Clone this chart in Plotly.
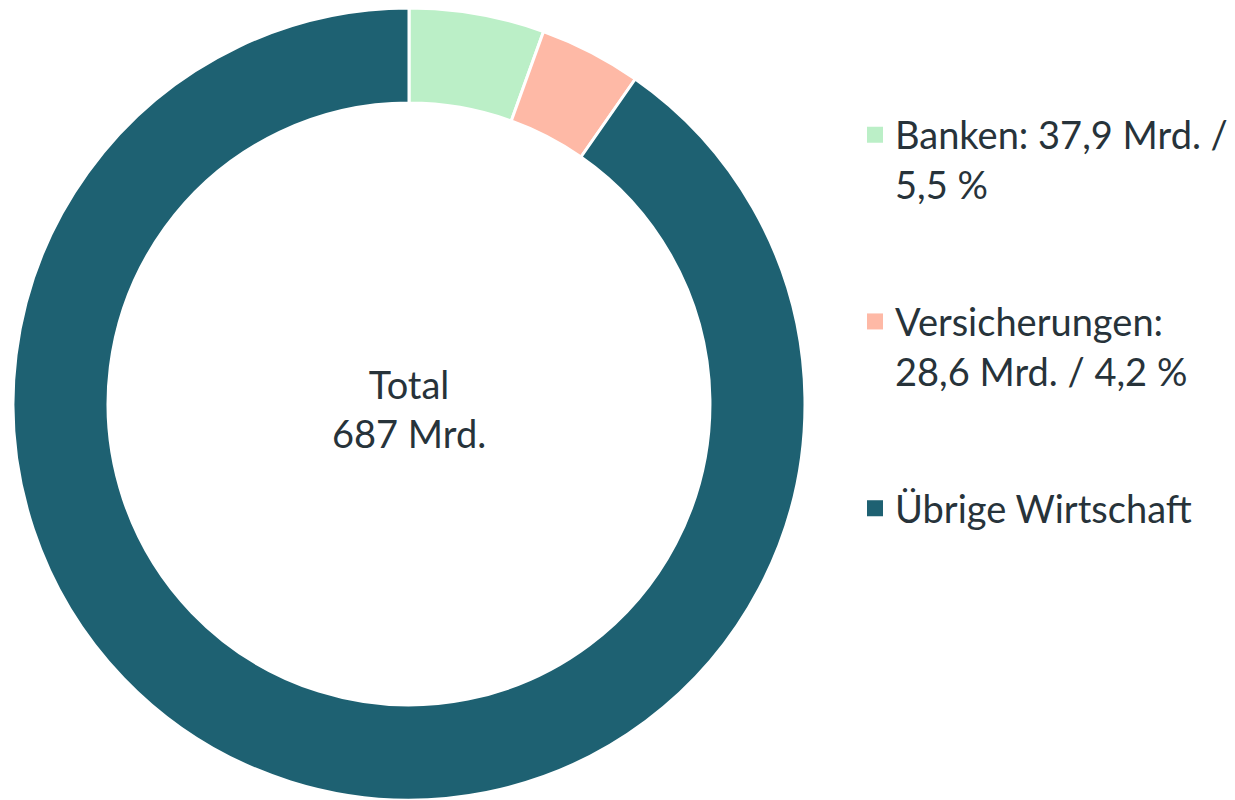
import plotly.graph_objects as go

# Anteile am Total (Mrd.)
categories = ["Banken", "Versicherungen", "Übrige Wirtschaft"]
values = [37.9, 28.6, 620.5]
legend_labels = [
    "Banken: 37,9 Mrd. /<br>5,5 %",
    "Versicherungen:<br>28,6 Mrd. / 4,2 %",
    "Übrige Wirtschaft",
]
center_text = "Total<br>687 Mrd."
colors = ["#bbefc7", "#feb9a6", "#1e6172"]

FONT = "Lato"
TEXT_COLOR = "#27333a"
W, H = 1235, 800

fig = go.Figure()

fig.add_trace(go.Pie(
    labels=categories,
    values=values,
    sort=False,
    direction="clockwise",
    rotation=0,
    hole=0.76,
    marker=dict(colors=colors, line=dict(color="white", width=3)),
    textinfo="none",
    hoverinfo="label+value+percent",
    showlegend=False,
    domain=dict(x=[0, 802 / W], y=[0, 1]),
))

# legend entries (one group each so the spacing can be set)
for cat, lab, col in zip(categories, legend_labels, colors):
    fig.add_trace(go.Scatter(
        x=[None], y=[None],
        mode="markers",
        name=lab,
        legendgroup=cat,
        marker=dict(symbol="square", size=16, color=col),
        hoverinfo="skip",
    ))

fig.add_annotation(
    text=center_text,
    x=401 / W, y=0.4937,
    xref="paper", yref="paper",
    xanchor="center", yanchor="middle",
    showarrow=False,
    font=dict(family=FONT, size=38, color=TEXT_COLOR),
)

fig.update_layout(
    width=W,
    height=H,
    margin=dict(l=0, r=0, t=0, b=8, autoexpand=False),
    paper_bgcolor="white",
    plot_bgcolor="white",
    font=dict(family=FONT, size=38, color=TEXT_COLOR),
    xaxis=dict(visible=False),
    yaxis=dict(visible=False),
    legend=dict(
        x=847 / W,
        xanchor="left",
        y=0.8795,
        yanchor="top",
        valign="top",
        tracegroupgap=85,
        font=dict(family=FONT, size=38, color=TEXT_COLOR),
        bgcolor="rgba(0,0,0,0)",
    ),
)

fig.write_html("out.html")
